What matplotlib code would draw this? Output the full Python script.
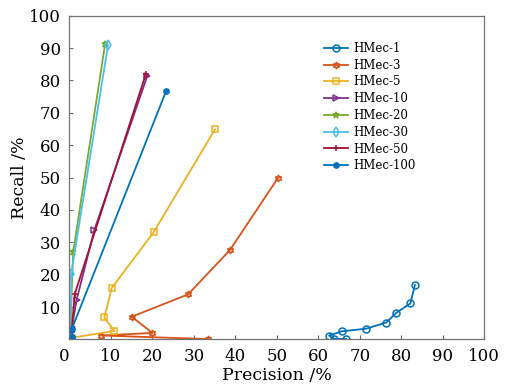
import matplotlib
matplotlib.use("Agg")
import matplotlib.pyplot as plt

plt.rcParams['font.family'] = ['DejaVu Serif']

labels = ['HMec-1', 'HMec-3', 'HMec-5', 'HMec-10', 'HMec-20', 'HMec-30', 'HMec-50', 'HMec-100']
colors = ['#0072BD', '#D95319', '#EDB120', '#7E2F8E', '#77AC30', '#4DBEEE', '#A2142F', '#0072BD']
markers = ['o', (6, 1, 0), 's', '>', '*', 'd', '+', '.']

# precision / recall values
prec_1 = [66.7, 63.7, 62.6, 65.7, 71.5, 76.4, 78.8, 82.2, 83.3]
rec_1 = [0.1, 0.2, 1.2, 2.5, 3.3, 5.2, 8.2, 11.1, 16.8]
prec_3 = [33.5, 7.7, 20.0, 15.0, 28.6, 38.7, 50.3]
rec_3 = [0.1, 1.2, 2.0, 7.0, 13.9, 27.6, 49.9]
prec_5 = [0.5, 10.8, 8.4, 10.2, 20.3, 35.1]
rec_5 = [0.5, 2.6, 6.8, 15.9, 33.1, 64.9]
prec_10 = [0.5, 0.6, 1.7, 6.0, 18.8]
rec_10 = [0.5, 3.7, 12.1, 33.8, 81.5]
prec_20 = [0.4, 0.3, 0.9, 8.6]
rec_20 = [0.5, 7.0, 27.0, 91.3]
prec_30 = [0.5, 0.4, 9.3]
rec_30 = [0.8, 20.1, 90.9]
prec_50 = [0.5, 0.5, 1.3, 18.4]
rec_50 = [0.5, 2.3, 14.1, 81.9]
prec_100 = [0.5, 0.6, 23.3]
rec_100 = [0.6, 3.3, 76.7]

precs = [prec_1, prec_3, prec_5, prec_10, prec_20, prec_30, prec_50, prec_100]
recs = [rec_1, rec_3, rec_5, rec_10, rec_20, rec_30, rec_50, rec_100]

fig = plt.figure(figsize=(5.07, 3.91), dpi=100)
ax = fig.add_axes([0.137, 0.132, 0.818, 0.828])

for x, y, lab, c, m in zip(precs, recs, labels, colors, markers):
    if m in ('+', '.', '*'):
        face = c
    else:
        face = 'none'
    ms = 7.5 if m == '.' else 5
    ax.plot(x, y, color=c, marker=m, markersize=ms, markerfacecolor=face,
            markeredgewidth=1.1, linewidth=1.3, label=lab)

ax.set_xlim(0, 100)
ax.set_ylim(0, 100)
ax.set_xticks(range(0, 101, 10))
ax.set_yticks(range(10, 101, 10))
ax.tick_params(direction='in', length=3, labelsize=12, color='0.4', pad=6)
ax.get_xticklabels()[0].set_horizontalalignment('right')
for s in ax.spines.values():
    s.set_color('0.45')
    s.set_linewidth(0.9)

ax.set_xlabel('Precision /%', fontsize=12.5, labelpad=2)
ax.set_ylabel('Recall /%', fontsize=12.5, labelpad=1)

ax.legend(loc='upper left', bbox_to_anchor=(0.63, 0.905), bbox_transform=fig.transFigure,
          frameon=False, fontsize=8.5, labelspacing=0.32, handlelength=2.0,
          handletextpad=0.45, borderaxespad=0)

fig.savefig('out.png', dpi=100)
